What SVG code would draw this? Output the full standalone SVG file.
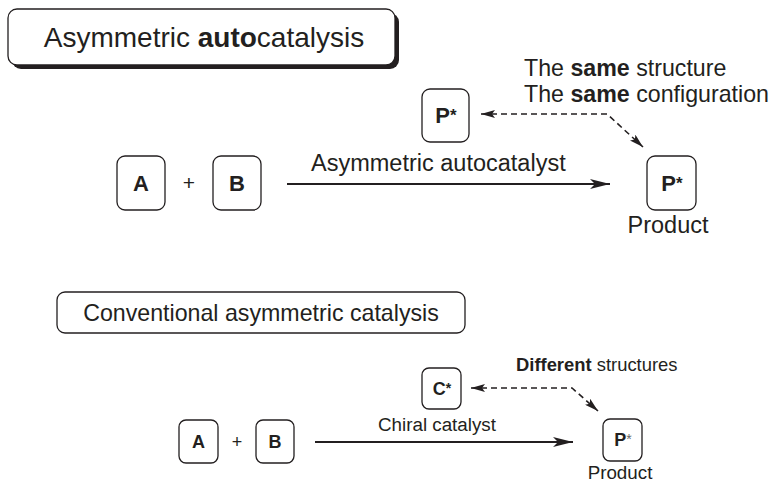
<svg xmlns="http://www.w3.org/2000/svg" width="771" height="484" viewBox="0 0 771 484">
<defs>
<style>
text{font-family:"Liberation Sans",Arial,sans-serif;fill:#231f20}
.box{fill:#fff;stroke:#231f20;stroke-width:1.3}
.b{font-weight:bold}
.line{stroke:#231f20;stroke-width:2;fill:none}
.dash{stroke:#231f20;stroke-width:1.6;fill:none;stroke-dasharray:6 4}
</style>
<marker id="ah" viewBox="0 0 20 10" refX="20" refY="5" markerWidth="20" markerHeight="10" markerUnits="userSpaceOnUse" orient="auto">
<path d="M0,0 L20,5 L0,10 L5,5 Z" fill="#231f20"/>
</marker>
<marker id="ahs" viewBox="0 0 14 8" refX="14" refY="4" markerWidth="14" markerHeight="8" markerUnits="userSpaceOnUse" orient="auto-start-reverse">
<path d="M0,0 L14,4 L0,8 L3,4 Z" fill="#231f20"/>
</marker>
</defs>
<rect width="771" height="484" fill="#fff"/>

<g id="title1">
<rect x="12" y="13" width="387" height="56" rx="9" fill="#231f20"/>
<rect x="8" y="9" width="387" height="56" rx="9" class="box"/>
<text x="204" y="47" font-size="28" text-anchor="middle">Asymmetric <tspan class="b">auto</tspan>catalysis</text>
</g>

<g id="A1">
<rect x="117" y="156" width="48" height="54" rx="8" class="box"/>
<text x="141" y="191" font-size="22" class="b" text-anchor="middle">A</text>
</g>
<text x="189" y="190" font-size="21" text-anchor="middle">+</text>
<g id="B1">
<rect x="213" y="156" width="48" height="54" rx="8" class="box"/>
<text x="237" y="191" font-size="22" class="b" text-anchor="middle">B</text>
</g>
<g id="P1top">
<rect x="422" y="89" width="47" height="53" rx="8" class="box"/>
<text x="446" y="123" font-size="22" class="b" text-anchor="middle">P<tspan font-size="17" dy="-2">*</tspan></text>
</g>
<g id="P1">
<rect x="647" y="156" width="49" height="54" rx="8" class="box"/>
<text x="672" y="191" font-size="22" class="b" text-anchor="middle">P<tspan font-size="17" dy="-2">*</tspan></text>
<text x="668" y="233" font-size="23.5" text-anchor="middle">Product</text>
</g>
<text x="524" y="76" font-size="23.2">The <tspan class="b">same</tspan> structure</text>
<text x="524" y="102" font-size="23.2">The <tspan class="b">same</tspan> configuration</text>

<g id="title2">
<rect x="57" y="292" width="408" height="41" rx="8" class="box"/>
<text x="261" y="321" font-size="23.2" text-anchor="middle">Conventional asymmetric catalysis</text>
</g>
<g id="A2">
<rect x="179" y="420" width="39" height="43" rx="7" class="box"/>
<text x="198.5" y="448" font-size="18" class="b" text-anchor="middle">A</text>
</g>
<text x="237" y="448" font-size="18" text-anchor="middle">+</text>
<g id="B2">
<rect x="256" y="420" width="38" height="43" rx="7" class="box"/>
<text x="275" y="448" font-size="18" class="b" text-anchor="middle">B</text>
</g>
<g id="C2">
<rect x="422" y="368" width="39" height="41" rx="7" class="box"/>
<text x="442" y="395" font-size="18" class="b" text-anchor="middle">C<tspan font-size="14" dy="-2">*</tspan></text>
</g>
<g id="P2">
<rect x="603" y="419" width="39" height="42" rx="7" class="box"/>
<text x="623" y="446" font-size="18" class="b" text-anchor="middle">P<tspan font-size="14" dy="-2" font-weight="normal" fill="#666">*</tspan></text>
<text x="620" y="479" font-size="18.8" text-anchor="middle">Product</text>
</g>
<text x="516" y="371" font-size="18.4"><tspan class="b">Different</tspan> structures</text>

<g id="connectors">
<line x1="287" y1="184" x2="610" y2="184" class="line" marker-end="url(#ah)"/>
<text x="311" y="171" font-size="23.5">Asymmetric autocatalyst</text>
<path d="M481,114 L607,114 L643,147" class="dash" marker-start="url(#ahs)" marker-end="url(#ahs)"/>
<line x1="315" y1="442" x2="573" y2="442" class="line" marker-end="url(#ah)"/>
<text x="378" y="431" font-size="18.8">Chiral catalyst</text>
<path d="M471,388 L572,388 L598,411" class="dash" marker-start="url(#ahs)" marker-end="url(#ahs)"/>
</g>
</svg>
